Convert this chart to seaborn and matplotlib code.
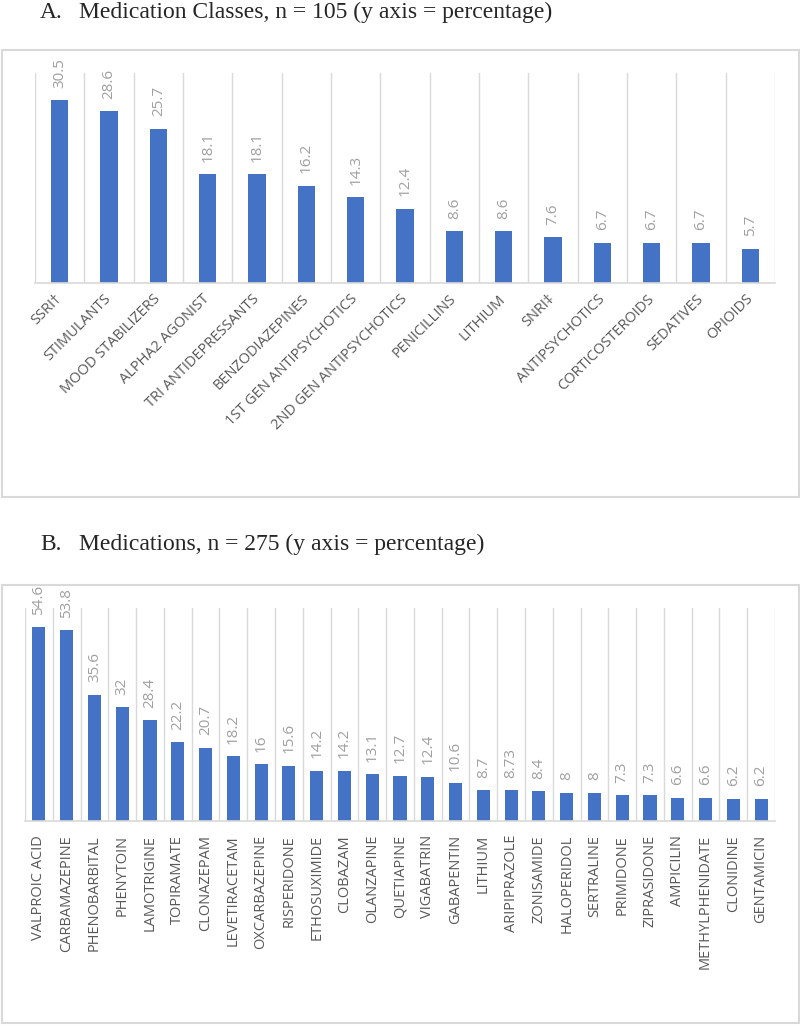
"""Medication classes / medications bar charts, two panels."""
import numpy as np
import matplotlib; matplotlib.use("Agg")
import matplotlib.pyplot as plt
from matplotlib.patches import Rectangle
import seaborn as sns

sns.set_style("white")
plt.rcParams["font.family"] = ["Open Sans", "DejaVu Sans"]

BAR = "#4472C4"; GRID = "#D9D9D9"; TICK_C = "#595959"; VAL_C = "#A0A0A0"

class_names = ["SSRI†", "STIMULANTS", "MOOD STABILIZERS", "ALPHA2 AGONIST", "TRI ANTIDEPRESSANTS",
               "BENZODIAZEPINES", "1ST GEN ANTIPSYCHOTICS", "2ND GEN ANTIPSYCHOTICS", "PENICILLINS",
               "LITHIUM", "SNRI‡", "ANTIPSYCHOTICS", "CORTICOSTEROIDS", "SEDATIVES", "OPIOIDS"]
class_pct = [30.5, 28.6, 25.7, 18.1, 18.1, 16.2, 14.3, 12.4, 8.6, 8.6, 7.6, 6.7, 6.7, 6.7, 5.7]

med_names = ["VALPROIC ACID", "CARBAMAZEPINE", "PHENOBARBITAL", "PHENYTOIN", "LAMOTRIGINE", "TOPIRAMATE",
             "CLONAZEPAM", "LEVETIRACETAM", "OXCARBAZEPINE", "RISPERIDONE", "ETHOSUXIMIDE", "CLOBAZAM",
             "OLANZAPINE", "QUETIAPINE", "VIGABATRIN", "GABAPENTIN", "LITHIUM", "ARIPIPRAZOLE", "ZONISAMIDE",
             "HALOPERIDOL", "SERTRALINE", "PRIMIDONE", "ZIPRASIDONE", "AMPICILIN", "METHYLPHENIDATE",
             "CLONIDINE", "GENTAMICIN"]
med_pct = [54.6, 53.8, 35.6, 32, 28.4, 22.2, 20.7, 18.2, 16, 15.6, 14.2, 14.2, 13.1, 12.7, 12.4, 10.6,
           8.7, 8.73, 8.4, 8, 8, 7.3, 7.3, 6.6, 6.6, 6.2, 6.2]

W, H = 800, 1026
fig = plt.figure(figsize=(W / 100, H / 100), dpi=100)

def px_axes(left, top, right, bottom):
    return fig.add_axes([left / W, 1 - bottom / H, (right - left) / W, (bottom - top) / H])

def draw_panel(ax, names, vals, ymax, width, rot):
    n = len(names)
    sns.barplot(x=names, y=vals, color=BAR, saturation=1, width=width, linewidth=0, ax=ax)
    ax.set_xlim(-0.5, n - 0.5); ax.set_ylim(0, ymax)
    ax.set_yticks([]); ax.set_ylabel(""); ax.set_xlabel("")
    ax.set_xticks(np.arange(-0.5, n), minor=True)
    ax.grid(which="minor", axis="x", color=GRID, lw=1); ax.grid(which="major", visible=False)
    ax.set_axisbelow(True)
    for s in ["left", "right", "top"]: ax.spines[s].set_visible(False)
    ax.spines["bottom"].set_color(GRID); ax.spines["bottom"].set_linewidth(1.2)
    ax.tick_params(axis="x", which="both", length=0, colors=TICK_C, labelsize=10.5, pad=10)
    if rot == 45:
        plt.setp(ax.get_xticklabels(), rotation=45, ha="right", va="center", rotation_mode="anchor")
    else:
        plt.setp(ax.get_xticklabels(), rotation=90, ha="center", va="top")
    for i, v in enumerate(vals):
        ax.annotate(f"{v:g}", (i, v), xytext=(0, 9), textcoords="offset points", rotation=90,
                    ha="center", va="bottom", color=VAL_C, fontsize=11, annotation_clip=False)

# frames
for top, bot in [(50, 497), (585, 1023)]:
    fig.patches.append(Rectangle((1.5 / W, 1 - bot / H), (W - 3) / W, (bot - top) / H,
                                 transform=fig.transFigure, fill=False, edgecolor=GRID, lw=1.5))

# titles
for y, letter, txt in [(18, "A.", "Medication Classes, n = 105 (y axis = percentage)"),
                       (550, "B.", "Medications, n = 275 (y axis = percentage)")]:
    fig.text(40 / W, 1 - y / H, letter, family="Liberation Serif", fontsize=17, va="baseline")
    fig.text(79 / W, 1 - y / H, txt, family="Liberation Serif", fontsize=17, va="baseline")

axA = px_axes(35, 73, 775, 283)
draw_panel(axA, class_names, class_pct, 35, 0.35, 45)
axB = px_axes(25, 608, 775, 821)
draw_panel(axB, med_names, med_pct, 60, 0.47, 90)

fig.savefig("out.png", dpi=100)
